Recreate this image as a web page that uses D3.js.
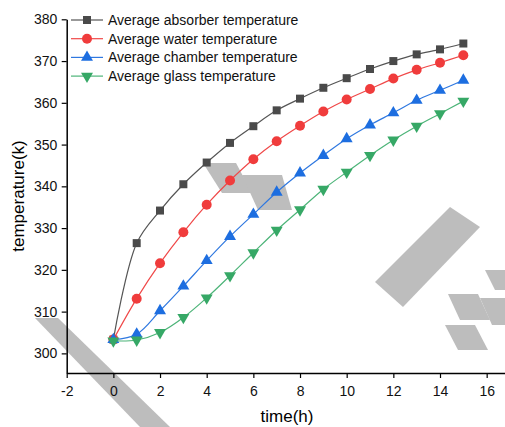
<!DOCTYPE html>
<html>
<head>
<meta charset="utf-8">
<script src="https://cdn.jsdelivr.net/npm/d3@7"></script>
<style>
  body { margin: 0; background: #fff; }
  svg { display: block; font-family: "Liberation Sans", Arial, sans-serif; }
</style>
</head>
<body>
<svg id="chart" width="505" height="427"></svg>
<script>
// hours, and the four temperature series
const hours = [0, 1, 2, 3, 4, 5, 6, 7, 8, 9, 10, 11, 12, 13, 14, 15];
const absorber = [303.3, 326.4, 334.2, 340.5, 345.7, 350.4, 354.4, 358.2, 361.0, 363.6, 365.9, 368.1, 370.0, 371.6, 372.8, 374.2];
const water = [303.3, 313.1, 321.6, 329.0, 335.6, 341.4, 346.5, 350.8, 354.5, 357.9, 360.8, 363.3, 365.8, 367.9, 369.6, 371.4];
const chamber = [303.3, 304.6, 310.2, 316.1, 322.2, 328.0, 333.3, 338.6, 343.2, 347.4, 351.4, 354.7, 357.6, 360.6, 363.0, 365.4];
const glass = [303.0, 303.2, 305.0, 308.6, 313.3, 318.6, 324.1, 329.5, 334.4, 339.3, 343.4, 347.4, 351.1, 354.4, 357.4, 360.4];

const seriesNames = ["Average absorber temperature", "Average water temperature",
  "Average chamber temperature", "Average glass temperature"];
const xTicks = [-2, 0, 2, 4, 6, 8, 10, 12, 14, 16];
const yTicks = [300, 310, 320, 330, 340, 350, 360, 370, 380];

const svg = d3.select("#chart");

const x = d3.scaleLinear().domain([-2, 17]).range([66.7, 510]);
const y = d3.scaleLinear().domain([295.3, 380]).range([373, 19.3]);

// faint watermark shapes behind the plot
const wm = svg.append("g").attr("fill", "#bdbdbd");
[
  "M35,318 L58,318 L170,427 L140,427 Z",
  "M203,163 L236,163 L252,193 L222,193 Z",
  "M242,175 L282,175 L292,210 L258,210 Z",
  "M375,282 L450,207 L480,227 L403,307 Z",
  "M448,294 L478,294 L490,320 L460,320 Z",
  "M445,325 L475,325 L488,350 L458,350 Z",
  "M480,298 L505,298 L505,325 L492,325 Z",
  "M485,270 L505,270 L505,290 L495,290 Z"
].forEach(d => wm.append("path").attr("d", d));

// axes (plain hyphen for negative labels, as in the original)
const fmt = d => String(d);
const xAxis = d3.axisBottom(x).tickValues(xTicks).tickFormat(fmt).tickSize(5).tickSizeOuter(0);
const yAxis = d3.axisLeft(y).tickValues(yTicks).tickFormat(fmt).tickSize(5).tickSizeOuter(0);
const xMinor = d3.axisBottom(x).tickValues(d3.range(-1, 17, 2)).tickFormat("").tickSize(3).tickSizeOuter(0);
const yMinor = d3.axisLeft(y).tickValues(d3.range(305, 380, 10)).tickFormat("").tickSize(3).tickSizeOuter(0);

const gx = svg.append("g").attr("transform", `translate(0,${y(295.3)})`);
gx.call(xMinor);
gx.call(xAxis);
const gy = svg.append("g").attr("transform", `translate(${x(-2)},0)`);
gy.call(yMinor);
gy.call(yAxis);

svg.selectAll(".domain").attr("stroke", "#000").attr("stroke-width", 1.5);
svg.selectAll(".tick line").attr("stroke", "#000").attr("stroke-width", 1.2);
svg.selectAll(".tick text").attr("font-size", 14).attr("fill", "#111")
  .attr("font-family", "Liberation Sans, Arial, sans-serif");
gx.selectAll(".tick text").attr("dy", "1.05em");
gy.selectAll(".tick text").attr("dx", "-0.1em");

svg.append("text")
  .attr("x", 287).attr("y", 422)
  .attr("text-anchor", "middle").attr("font-size", 17)
  .text("time(h)");
svg.append("text")
  .attr("transform", `translate(24,196) rotate(-90)`)
  .attr("text-anchor", "middle").attr("font-size", 17)
  .text("temperature(k)");

const sym = {
  square: d3.symbol().type(d3.symbolSquare).size(64),
  circle: d3.symbol().type(d3.symbolCircle).size(78),
  up: d3.symbol().type(d3.symbolTriangle).size(62),
  down: d3.symbol().type(d3.symbolTriangle).size(62)
};

const series = [
  { name: seriesNames[0], values: absorber, line: "#555555", fill: "#4a4a4a", shape: "square" },
  { name: seriesNames[1], values: water, line: "#f04848", fill: "#f03c3c", shape: "circle" },
  { name: seriesNames[2], values: chamber, line: "#2f78e0", fill: "#1d6ee0", shape: "up" },
  { name: seriesNames[3], values: glass, line: "#4cb478", fill: "#36a866", shape: "down" }
];

const line = d3.line()
  .x(d => x(d[0]))
  .y(d => y(d[1]))
  .curve(d3.curveCatmullRom.alpha(0.5));

function marker(g, s, cx, cy) {
  g.append("path")
    .attr("d", sym[s.shape]())
    .attr("transform", `translate(${cx},${cy})${s.shape === "down" ? " rotate(180)" : ""}`)
    .attr("fill", s.fill);
}

series.forEach(s => {
  const pts = hours.map((h, i) => [h, s.values[i]]);
  svg.append("path")
    .attr("d", line(pts))
    .attr("fill", "none")
    .attr("stroke", s.line)
    .attr("stroke-width", 1.2);
  const g = svg.append("g");
  pts.forEach(p => marker(g, s, x(p[0]), y(p[1])));
});

// legend
const legend = svg.append("g");
series.forEach((s, i) => {
  const ly = 20 + i * 18.7;
  legend.append("line")
    .attr("x1", 71).attr("x2", 103).attr("y1", ly).attr("y2", ly)
    .attr("stroke", s.line).attr("stroke-width", 1.2);
  marker(legend, s, 87, ly);
  legend.append("text")
    .attr("x", 108).attr("y", ly + 5)
    .attr("font-size", 14).attr("fill", "#111")
    .text(s.name);
});
</script>
</body>
</html>
